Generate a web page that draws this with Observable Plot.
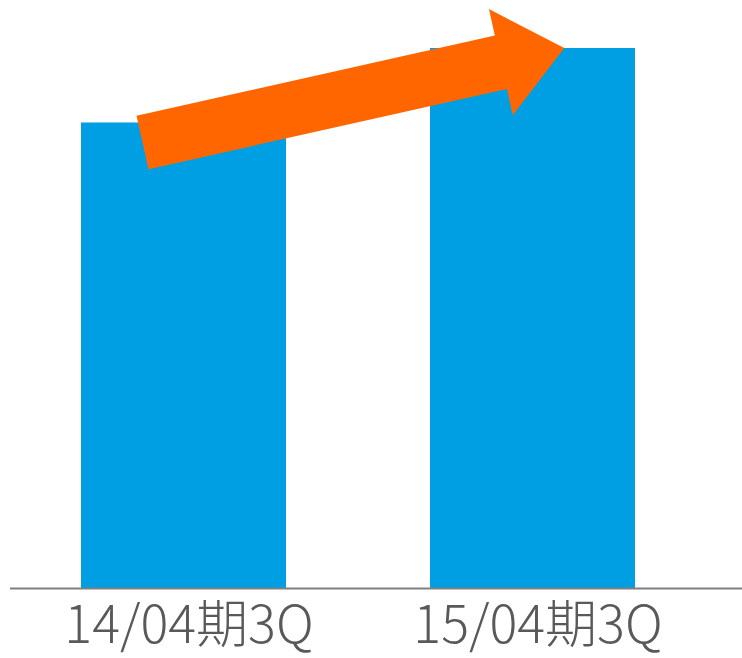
<!DOCTYPE html>
<html>
<head>
<meta charset="utf-8">
<script src="https://cdn.jsdelivr.net/npm/d3@7"></script>
<script src="https://cdn.jsdelivr.net/npm/@observablehq/plot@0.6"></script>
<style>
  html, body { margin: 0; padding: 0; background: #fff; }
  #chart svg { display: block; }
</style>
</head>
<body>
<div id="chart"></div>
<script>
const categories = ["14/04期3Q", "15/04期3Q"];
const values = [100, 116];

const data = categories.map((c, i) => ({category: c, value: values[i]}));

function growthArrow(index, scales, channels, dimensions) {
  const x = scales.x, y = scales.y;
  const bw = x.bandwidth ? x.bandwidth() : 205;
  const x0 = x(categories[0]) + 0.3 * bw, y0 = y(values[0]) + 20;
  const x1 = x(categories[1]) + 0.655 * bw, y1 = y(values[1]);
  const dx = x1 - x0, dy = y1 - y0;
  const len = Math.hypot(dx, dy);
  const ux = dx / len, uy = dy / len;
  const nx = -uy, ny = ux;
  const shaftHalf = 27.4, headHalf = 54.4, headLen = 65;
  const bx = x1 - ux * headLen, by = y1 - uy * headLen;
  const pts = [
    [x0 + nx * shaftHalf, y0 + ny * shaftHalf],
    [bx + nx * shaftHalf, by + ny * shaftHalf],
    [bx + nx * headHalf, by + ny * headHalf],
    [x1, y1],
    [bx - nx * headHalf, by - ny * headHalf],
    [bx - nx * shaftHalf, by - ny * shaftHalf],
    [x0 - nx * shaftHalf, y0 - ny * shaftHalf]
  ];
  const g = document.createElementNS("http://www.w3.org/2000/svg", "polygon");
  g.setAttribute("points", pts.map(p => p.join(",")).join(" "));
  g.setAttribute("fill", "#FF6600");
  return g;
}

const chart = Plot.plot({
  width: 742,
  height: 658,
  marginTop: 48,
  marginBottom: 70,
  marginLeft: 10,
  marginRight: 0,
  style: {fontFamily: "'Noto Sans CJK JP', 'Noto Sans', sans-serif", background: "#fff"},
  x: {domain: categories, padding: 0.413, paddingOuter: 0.255, align: 0.399, label: null},
  y: {domain: [0, 116], axis: null},
  marks: [
    Plot.barY(data, {x: "category", y: "value", fill: "#009FE3"}),
    Plot.ruleY([0], {stroke: "#808080", strokeWidth: 2}),
    Plot.axisX({tickSize: 0, tickPadding: 18, dx: 5, fontSize: 52, fontWeight: 300, color: "#595959", label: null}),
    growthArrow
  ]
});
document.getElementById("chart").appendChild(chart);
</script>
</body>
</html>
